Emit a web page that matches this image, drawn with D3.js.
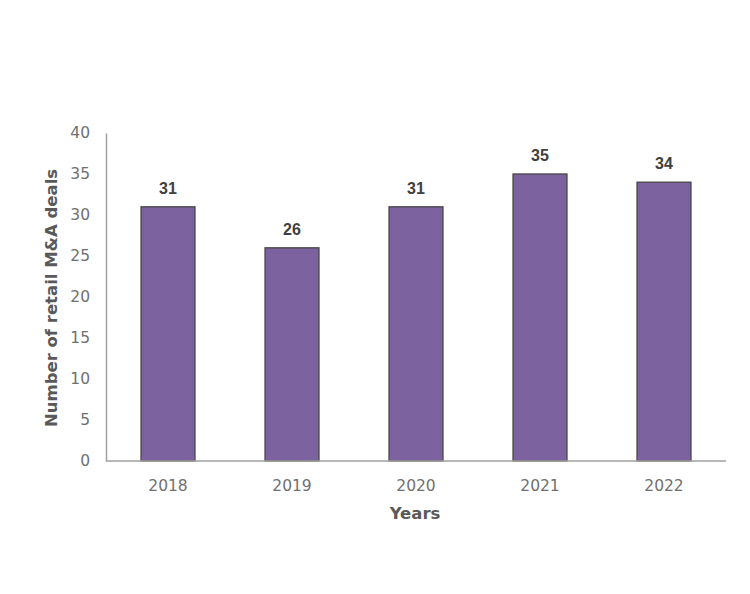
<!DOCTYPE html>
<html><head><meta charset="utf-8">
<script src="https://cdn.jsdelivr.net/npm/d3@7"></script>
<style>body{margin:0;background:#fff}svg{display:block}</style>
</head><body><div id="c"></div>
<script>
const categories = ["2018","2019","2020","2021","2022"];
const values = [31,26,31,35,34];
const yTicks = [0,5,10,15,20,25,30,35,40];

const W=750,H=594;
const svg=d3.select("#c").append("svg").attr("width",W).attr("height",H);
const font="'DejaVu Sans', sans-serif";
const x=d3.scaleBand().domain(categories).range([106,726]).paddingInner(0.565).paddingOuter(0.2825);
const y=d3.scaleLinear().domain([0,40]).range([461,133]);

svg.selectAll("rect.bar").data(values).join("rect")
  .attr("x",(d,i)=>x(categories[i])).attr("width",x.bandwidth())
  .attr("y",d=>y(d)).attr("height",d=>y(0)-y(d))
  .attr("fill","#7d62a0").attr("stroke","#454545").attr("stroke-width",1.3);

const ya=svg.append("g").attr("transform","translate(106,0)")
  .call(d3.axisLeft(y).tickValues(yTicks).tickSize(0).tickPadding(16));
ya.select(".domain").attr("stroke","#a0a0a0").attr("stroke-width",1.5);
ya.selectAll("text").attr("font-family",font).attr("font-size",15.5).attr("fill","#707070");

const xa=svg.append("g").attr("transform","translate(0,461)")
  .call(d3.axisBottom(x).tickSize(0).tickPadding(19));
xa.select(".domain").attr("d","M106,0H726").attr("stroke","#a0a0a0").attr("stroke-width",1.5);
xa.selectAll("text").attr("font-family",font).attr("font-size",15.5).attr("fill","#707070");

svg.selectAll("text.val").data(values).join("text")
  .attr("x",(d,i)=>x(categories[i])+x.bandwidth()/2).attr("y",d=>y(d)-13)
  .attr("text-anchor","middle").attr("font-family","'Liberation Sans', Arial, sans-serif").attr("font-weight","bold")
  .attr("font-size",16).attr("fill","#404040").text(d=>d);

svg.append("text").attr("x",415).attr("y",519).attr("text-anchor","middle")
  .attr("font-family",font).attr("font-weight","bold").attr("font-size",16.5).attr("fill","#595959").text("Years");
svg.append("text").attr("transform","translate(57,298) rotate(-90)").attr("text-anchor","middle")
  .attr("font-family",font).attr("font-weight","bold").attr("font-size",16.5).attr("fill","#595959").text("Number of retail M&A deals");
</script></body></html>
